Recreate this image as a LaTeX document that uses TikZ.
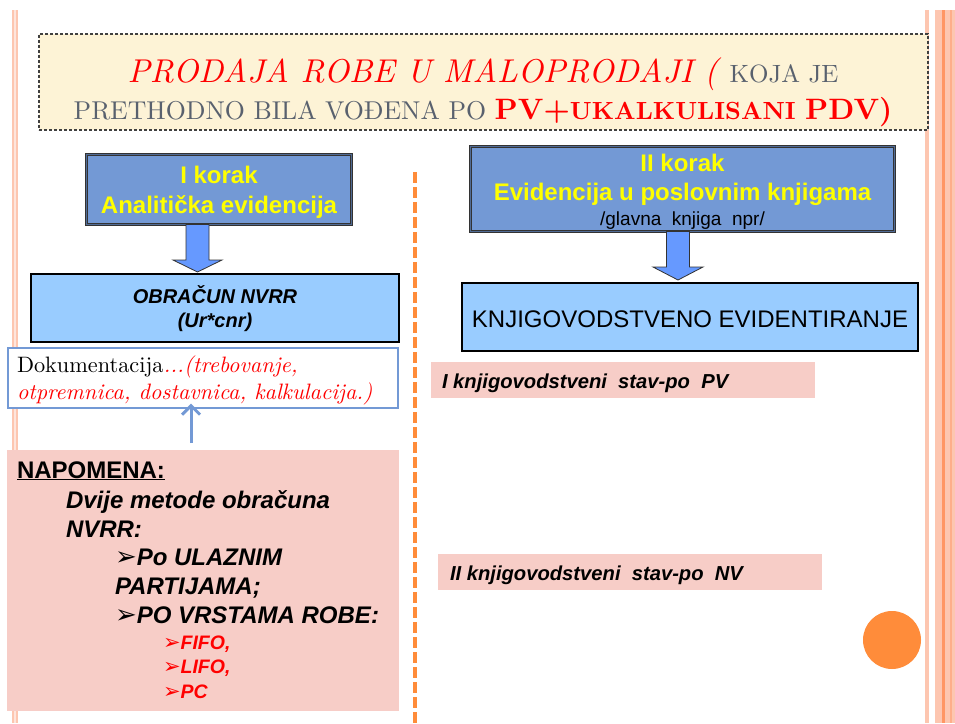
\documentclass[tikz,border=0pt]{standalone}
\usepackage{fontspec}
\newfontfamily\arial{Liberation Sans}
\newfontfamily\dejavu{DejaVu Sans}
\newfontfamily\lmt{lmroman10-regular}[Extension=.otf, ItalicFont=lmroman10-italic, BoldFont=lmroman10-bold]
\usetikzlibrary{arrows.meta,calc}
\definecolor{kblue}{RGB}{115,153,213}
\definecolor{lblue}{RGB}{153,204,255}
\definecolor{ablue}{RGB}{102,153,255}
\definecolor{pinkf}{RGB}{247,205,199}
\definecolor{cream}{RGB}{253,243,214}
\definecolor{ttlgray}{RGB}{89,97,110}
\definecolor{orng}{RGB}{255,140,58}
\definecolor{stripe}{RGB}{253,198,176}
\definecolor{stripedk}{RGB}{255,150,100}
\definecolor{yel}{RGB}{255,255,0}
\tikzset{
  every node/.style={inner sep=0pt, outer sep=0pt},
  titlebox/.style={draw=black!75, line width=1.1pt, dash pattern=on 3pt off 2pt, fill=cream},
  korak/.style={draw=black!80, line width=1pt, double=kblue!70!black, double distance=1.5pt, fill=kblue},
  lbbox/.style={draw=black, line width=1.2pt, fill=lblue},
  docbox/.style={draw=kblue, line width=2pt, fill=white},
  pinkbox/.style={fill=pinkf, draw=none},
  barrow/.style={fill=ablue, draw=black!80, line width=0.8pt, line join=miter},
  uparrow/.style={draw=kblue, line width=3pt, -{Straight Barb[length=9pt,width=18pt]}},
  divider/.style={draw=orng, line width=4pt, dash pattern=on 11pt off 4pt},
  ytext/.style={anchor=base, text=yel, font=\arial\bfseries\fontsize{24}{28}\selectfont},
  napt/.style={anchor=base west, font=\arial\bfseries\itshape\fontsize{24}{28}\selectfont},
  redt/.style={anchor=base west, text=red, font=\arial\bfseries\itshape\fontsize{19.5}{22}\selectfont},
  stavt/.style={anchor=base west, font=\arial\bfseries\itshape\fontsize{20.2}{22}\selectfont},
}
\newcommand\bul{{\dejavu\fontsize{26}{28}\selectfont\char"27A2}}
\newcommand\bulsm{{\dejavu\fontsize{21}{22}\selectfont\char"27A2}}
\begin{document}
\begin{tikzpicture}[x=1pt,y=-1pt]
\useasboundingbox (0,0) rectangle (955,723);
\fill[white] (0,0) rectangle (955,723);
% side stripes
\fill[stripe] (12,10) rectangle (18,723);
\fill[stripe!45!white] (13.5,10) rectangle (15.8,723);
\fill[stripe] (925,10) rectangle (929,723);
\fill[stripe] (935,10) rectangle (955,723);
\fill[stripedk] (942,10) rectangle (945,723);
\fill[stripedk!50!stripe] (950,10) rectangle (951.5,723);

% title
\node[titlebox, minimum width=889pt, minimum height=96pt] (title) at (483.5,82) {};
\node[anchor=base, font=\lmt] (t1) at (483,82) {{\fontsize{33}{40}\selectfont\color{red}\itshape PRODAJA ROBE U MALOPRODAJI (\ }{\fontsize{25}{30}\selectfont\color{ttlgray}KOJA JE}};
\node[anchor=base, font=\lmt] (t2) at (483,119) {{\fontsize{25.8}{32}\selectfont\color{ttlgray}PRETHODNO BILA VOĐENA PO }{\color{red}\bfseries\fontsize{29.5}{36}\selectfont PV+\fontsize{24.8}{30}\selectfont UKALKULISANI \fontsize{29.5}{36}\selectfont PDV)}};

% divider
\coordinate (divtop) at (415,172);
\coordinate (divbot) at (415,723);
\draw[divider] (divtop) -- (divbot);

% left column
\node[korak, minimum width=265pt, minimum height=70pt] (k1) at (219,189.5) {};
\node[ytext] (k1a) at (219,183) {I korak};
\node[ytext] (k1b) at (219,213) {Analitička evidencija};

\node[lbbox, minimum width=368pt, minimum height=68pt] (ob) at (215,308) {};
\node[anchor=base, font=\arial\bfseries\itshape\fontsize{20}{24}\selectfont] (ob1) at (215,303) {OBRAČUN NVRR};
\node[anchor=base, font=\arial\bfseries\itshape\fontsize{20}{24}\selectfont] (ob2) at (215,327) {(Ur*cnr)};

\coordinate (a1top) at ($(k1.south)+(-21.5,0)$);
\coordinate (a1tip) at ($(a1top |- ob.north)+(0,-2)$);
\draw[barrow] ($(a1top)+(-11.5,0)$) -- ($(a1top)+(11.5,0)$) -- ($(a1tip)+(11.5,-12)$) -- ($(a1tip)+(24.5,-12)$) -- (a1tip) -- ($(a1tip)+(-24.5,-12)$) -- ($(a1tip)+(-11.5,-12)$) -- cycle;

\node[docbox, minimum width=390pt, minimum height=60pt] (doc) at (203,377.5) {};
\node[anchor=base west, font=\lmt\fontsize{22.3}{25}\selectfont] (doc1) at (17,372) {Dokumentacija{\color{red}\itshape...(trebovanje,}};
\node[anchor=base west, font=\lmt\fontsize{22.3}{25}\selectfont] (doc2) at (17,399) {\color{red}\itshape otpremnica, dostavnica, kalkulacija.)};

\node[pinkbox, minimum width=392pt, minimum height=261pt] (nap) at (203,580.5) {};
\coordinate (upb) at (191,443);
\draw[uparrow] (upb) -- ($(upb |- doc.south)+(0,-4)$);

\node[anchor=base west, font=\arial\bfseries\fontsize{24}{28}\selectfont] (n0) at (17,478) {\underline{NAPOMENA:}};
\node[napt] (n1) at (66,508) {Dvije metode obračuna};
\node[napt] (n2) at (66,537) {NVRR:};
\node[napt] (n3) at (115,565) {\bul Po ULAZNIM};
\node[napt] (n4) at (115,594) {PARTIJAMA;};
\node[napt] (n5) at (115,623) {\bul PO VRSTAMA ROBE:};
\node[redt] (r1) at (163,649) {\bulsm FIFO,};
\node[redt] (r2) at (163,673) {\bulsm LIFO,};
\node[redt] (r3) at (163,698) {\bulsm PC};

% right column
\node[korak, minimum width=424pt, minimum height=85pt] (k2) at (682.5,189) {};
\node[ytext] (k2a) at (682.5,171) {II korak};
\node[ytext] (k2b) at (682.5,200) {Evidencija u poslovnim knjigama};
\node[anchor=base, font=\arial\fontsize{19}{22}\selectfont] (k2c) at (682.5,225) {/glavna\ \ knjiga\ \ npr/};

\node[lbbox, minimum width=456pt, minimum height=68pt] (kn) at (690,317) {};
\node[anchor=base, font=\arial\fontsize{24}{28}\selectfont] (kn1) at (690,327) {KNJIGOVODSTVENO EVIDENTIRANJE};

\coordinate (a2top) at ($(k2.south)+(-4.5,0)$);
\coordinate (a2tip) at ($(a2top |- kn.north)+(0,-3)$);
\draw[barrow] ($(a2top)+(-11.5,0)$) -- ($(a2top)+(11.5,0)$) -- ($(a2tip)+(11.5,-13)$) -- ($(a2tip)+(25,-13)$) -- (a2tip) -- ($(a2tip)+(-25,-13)$) -- ($(a2tip)+(-11.5,-13)$) -- cycle;

\node[pinkbox, minimum width=384pt, minimum height=36pt] (p1) at (623,380) {};
\node[stavt] (p1t) at (442,388) {I knjigovodstveni\ \ stav-po\ \ PV};
\node[pinkbox, minimum width=384pt, minimum height=36pt] (p2) at (630,572) {};
\node[stavt] (p2t) at (450,580) {II knjigovodstveni\ \ stav-po\ \ NV};

\node[circle, fill=orng, minimum size=58pt] (dot) at (892,640) {};
\end{tikzpicture}
\end{document}
